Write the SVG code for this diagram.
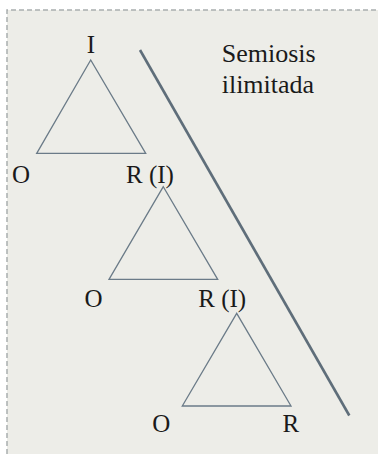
<svg xmlns="http://www.w3.org/2000/svg" width="378" height="454" viewBox="0 0 378 454">
<style>
.lbl{font-family:"Liberation Serif","Times New Roman",serif;font-size:25px;fill:#1a1a1a}
.big{font-family:"Liberation Serif","Times New Roman",serif;font-size:26px;fill:#1a1a1a}
.tri{fill:none;stroke:#6b7b88;stroke-width:1.3}
</style>
<rect x="0" y="0" width="378" height="454" fill="#ffffff"/>
<rect x="7" y="10" width="371" height="444" fill="#ededE8"/>
<path d="M7,454 V10 H378" fill="none" stroke="#a9aeae" stroke-width="1.5" stroke-dasharray="5,3"/>
<g id="connectors">
<line x1="140" y1="50" x2="349.3" y2="415.5" stroke="#5f6e7a" stroke-width="2.6"/>
</g>
<g id="tri1">
<polygon class="tri" points="90.7,60 36.7,153.3 145.7,153.3"/>
<text class="lbl" x="91" y="53.3" text-anchor="middle">I</text>
<text class="lbl" x="12" y="182.5">O</text>
<text class="lbl" x="126" y="182.5">R (I)</text>
</g>
<g id="tri2">
<polygon class="tri" points="163.3,186.7 109,279.3 217.7,279.3"/>
<text class="lbl" x="84.5" y="306.7">O</text>
<text class="lbl" x="198.3" y="306.7">R (I)</text>
</g>
<g id="tri3">
<polygon class="tri" points="236.7,313.3 182.3,406 291,406"/>
<text class="lbl" x="152.2" y="432.3">O</text>
<text class="lbl" x="282.5" y="432.3">R</text>
</g>
<g id="label">
<text class="big" x="221.7" y="61.7">Semiosis</text>
<text class="big" x="221.7" y="93.3">ilimitada</text>
</g>
</svg>
